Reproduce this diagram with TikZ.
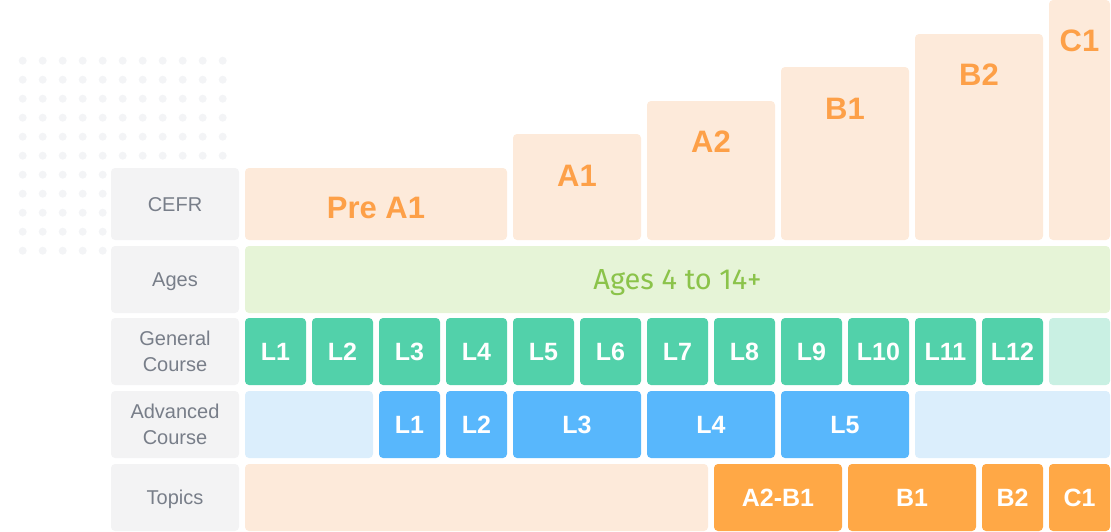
\documentclass[tikz,border=0pt]{standalone}
\usepackage{fontspec}
\setmainfont{Liberation Sans}
\newfontfamily\agesfont{Fira Sans}
\definecolor{labbg}{HTML}{F3F3F4}
\definecolor{labtx}{HTML}{787E89}
\definecolor{dotc}{HTML}{F3F4F6}
\definecolor{peach}{HTML}{FDEADA}
\definecolor{orangetx}{HTML}{FDA048}
\definecolor{agesbg}{HTML}{E6F4D7}
\definecolor{agestx}{HTML}{8BC34A}
\definecolor{gen}{HTML}{52D1AA}
\definecolor{genlt}{HTML}{C9F0E3}
\definecolor{adv}{HTML}{58B7FC}
\definecolor{advlt}{HTML}{DBEEFC}
\definecolor{topic}{HTML}{FFA846}
\newcommand\cellbox[7]{\node[#6, minimum width={#4-#2}, minimum height={#5-#3}] (#1) at ({(#2+#4)/2},{(#3+#5)/2}) {#7};}
\tikzset{
  base/.style={rounded corners=4pt, inner sep=0pt, outer sep=0pt, draw=none},
  labbox/.style={base, fill=labbg, text=labtx, align=center, font=\fontsize{20}{26}\selectfont},
  labone/.style={labbox, text height=14.4pt, text depth=0pt},
  cefrbox/.style={base, fill=peach},
  cefrtxt/.style={text=orangetx, font=\fontsize{31}{36}\selectfont\bfseries, inner sep=0pt, text height=22.2pt, text depth=0pt},
  agesbox/.style={base, fill=agesbg, text=agestx, font=\fontsize{29}{34}\agesfont, text height=20pt, text depth=0pt},
  whitetxt/.style={text=white, font=\fontsize{25}{30}\selectfont\bfseries, text height=17.9pt, text depth=0pt},
  genbox/.style={base, fill=gen, whitetxt},
  genlight/.style={base, fill=genlt},
  advbox/.style={base, fill=adv, whitetxt},
  advlight/.style={base, fill=advlt},
  topbox/.style={base, fill=topic, whitetxt},
  toplight/.style={base, fill=peach},
}
\begin{document}
\begin{tikzpicture}[x=1pt,y=-1pt]
\useasboundingbox (0,0) rectangle (1111,531);
% dot grid
\foreach \i in {0,...,10}{
  \foreach \j in {0,...,10}{
    \fill[dotc] (22.7+20*\i,60.7+19*\j) circle[radius=4pt];
  }
}
% row labels
\cellbox{labcefr}{111}{168}{239}{240}{labone}{CEFR}
\cellbox{labages}{111}{246}{239}{313}{labone}{Ages}
\cellbox{labgen}{111}{318}{239}{385}{labbox}{General\\Course}
\cellbox{labadv}{111}{391}{239}{458}{labbox}{Advanced\\Course}
\cellbox{labtop}{111}{464}{239}{531}{labone}{Topics}
% CEFR bars
\cellbox{cpre}{245}{168}{507}{240}{cefrbox}{}
\cellbox{ca1}{513}{134}{641}{240}{cefrbox}{}
\cellbox{ca2}{647}{101}{775}{240}{cefrbox}{}
\cellbox{cb1}{781}{67}{909}{240}{cefrbox}{}
\cellbox{cb2}{915}{34}{1043}{240}{cefrbox}{}
\cellbox{cc1}{1049}{0}{1110}{240}{cefrbox}{}
\node[cefrtxt] (tpre) at (376,207.5) {Pre A1};
\node[cefrtxt] (ta1) at (577,175) {A1};
\node[cefrtxt] (ta2) at (711,141) {A2};
\node[cefrtxt] (tb1) at (845,108) {B1};
\node[cefrtxt] (tb2) at (979,74) {B2};
\node[cefrtxt] (tc1) at (1079.5,40) {C1};
% Ages
\cellbox{ages}{245}{246}{1110}{313}{agesbox}{Ages 4 to 14+}
% General course
\foreach \k in {1,...,12}{
  \pgfmathsetmacro\xa{245+67*(\k-1)}
  \pgfmathsetmacro\xb{\xa+61}
  \cellbox{g\k}{\xa}{318}{\xb}{385}{genbox}{L\k}
}
\cellbox{glast}{1049}{318}{1110}{385}{genlight}{}
% Advanced course
\cellbox{aempty1}{245}{391}{373}{458}{advlight}{}
\cellbox{a1}{379}{391}{440}{458}{advbox}{L1}
\cellbox{a2}{446}{391}{507}{458}{advbox}{L2}
\cellbox{a3}{513}{391}{641}{458}{advbox}{L3}
\cellbox{a4}{647}{391}{775}{458}{advbox}{L4}
\cellbox{a5}{781}{391}{909}{458}{advbox}{L5}
\cellbox{aempty2}{915}{391}{1110}{458}{advlight}{}
% Topics
\cellbox{tempty}{245}{464}{708}{531}{toplight}{}
\cellbox{ta2b1}{714}{464}{842}{531}{topbox}{A2-B1}
\cellbox{tob1}{848}{464}{976}{531}{topbox}{B1}
\cellbox{tob2}{982}{464}{1043}{531}{topbox}{B2}
\cellbox{toc1}{1049}{464}{1110}{531}{topbox}{C1}
\end{tikzpicture}
\end{document}
